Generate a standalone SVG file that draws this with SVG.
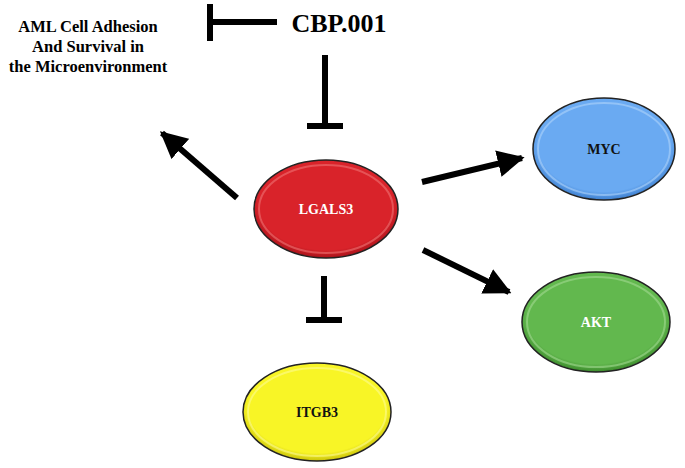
<svg xmlns="http://www.w3.org/2000/svg" width="685" height="468" viewBox="0 0 685 468">
<style>
.lbl{font-family:"Liberation Serif","Times New Roman",serif;font-weight:bold;text-anchor:middle}
.edge{stroke:#000;stroke-width:6;fill:none}
.rim{fill:none;stroke:#222;stroke-width:1.5}
.inner{fill:none;stroke-width:2;stroke-opacity:0.55}
</style>
<defs>
<marker id="ah" viewBox="0 0 10 10" refX="9" refY="5" markerWidth="4.5" markerHeight="4.5" orient="auto" markerUnits="strokeWidth">
<path d="M0,0 L10,5 L0,10 Z" fill="#000"/>
</marker>
<radialGradient id="gr" cx="50%" cy="45%" r="55%"><stop offset="0.85" stop-color="#d9232a"/><stop offset="1" stop-color="#a8121a"/></radialGradient>
<radialGradient id="gb" cx="50%" cy="45%" r="55%"><stop offset="0.85" stop-color="#6aaaf2"/><stop offset="1" stop-color="#3d7fcf"/></radialGradient>
<radialGradient id="gg" cx="50%" cy="45%" r="55%"><stop offset="0.85" stop-color="#62b84e"/><stop offset="1" stop-color="#3b8a2b"/></radialGradient>
<radialGradient id="gy" cx="50%" cy="45%" r="55%"><stop offset="0.85" stop-color="#f8f526"/><stop offset="1" stop-color="#c9c20a"/></radialGradient>
</defs>
<rect width="685" height="468" fill="#fff"/>
<g id="connectors">
<path class="edge" d="M277,22 H210 M210,4 V41"/>
<path class="edge" d="M325,55 V126 M307,126 H343"/>
<path class="edge" d="M324,276 V320 M306,320 H342"/>
<line class="edge" x1="237" y1="198" x2="162" y2="133" marker-end="url(#ah)"/>
<line class="edge" x1="422" y1="182" x2="522" y2="158" marker-end="url(#ah)"/>
<line class="edge" x1="423" y1="250" x2="509" y2="292" marker-end="url(#ah)"/>
</g>
<g id="aml">
<text class="lbl" x="88" y="32" font-size="16.5">AML Cell Adhesion</text>
<text class="lbl" x="88" y="52" font-size="16.5">And Survival in</text>
<text class="lbl" x="88" y="72" font-size="16.5">the Microenvironment</text>
</g>
<g id="cbp">
<text class="lbl" x="339" y="32" font-size="26">CBP.001</text>
</g>
<g id="lgals3">
<ellipse cx="326" cy="209" rx="72" ry="49" fill="url(#gr)"/>
<ellipse class="inner" cx="326" cy="209" rx="67" ry="44" stroke="#f07a7a"/>
<ellipse class="rim" cx="326" cy="209" rx="72" ry="49"/>
<text class="lbl" x="326" y="214" font-size="14" fill="#fff">LGALS3</text>
</g>
<g id="myc">
<ellipse cx="604" cy="149" rx="71" ry="51" fill="url(#gb)"/>
<ellipse class="inner" cx="604" cy="149" rx="66" ry="46" stroke="#b5d7fb"/>
<ellipse class="rim" cx="604" cy="149" rx="71" ry="51"/>
<text class="lbl" x="604" y="154" font-size="14" fill="#111">MYC</text>
</g>
<g id="akt">
<ellipse cx="596" cy="322" rx="74" ry="50" fill="url(#gg)"/>
<ellipse class="inner" cx="596" cy="322" rx="69" ry="45" stroke="#a8dc98"/>
<ellipse class="rim" cx="596" cy="322" rx="74" ry="50"/>
<text class="lbl" x="596" y="327" font-size="14" fill="#fff">AKT</text>
</g>
<g id="itgb3">
<ellipse cx="317" cy="412" rx="74" ry="49" fill="url(#gy)"/>
<ellipse class="inner" cx="317" cy="412" rx="69" ry="44" stroke="#fdfb9a"/>
<ellipse class="rim" cx="317" cy="412" rx="74" ry="49"/>
<text class="lbl" x="317" y="417" font-size="14" fill="#111">ITGB3</text>
</g>
</svg>
